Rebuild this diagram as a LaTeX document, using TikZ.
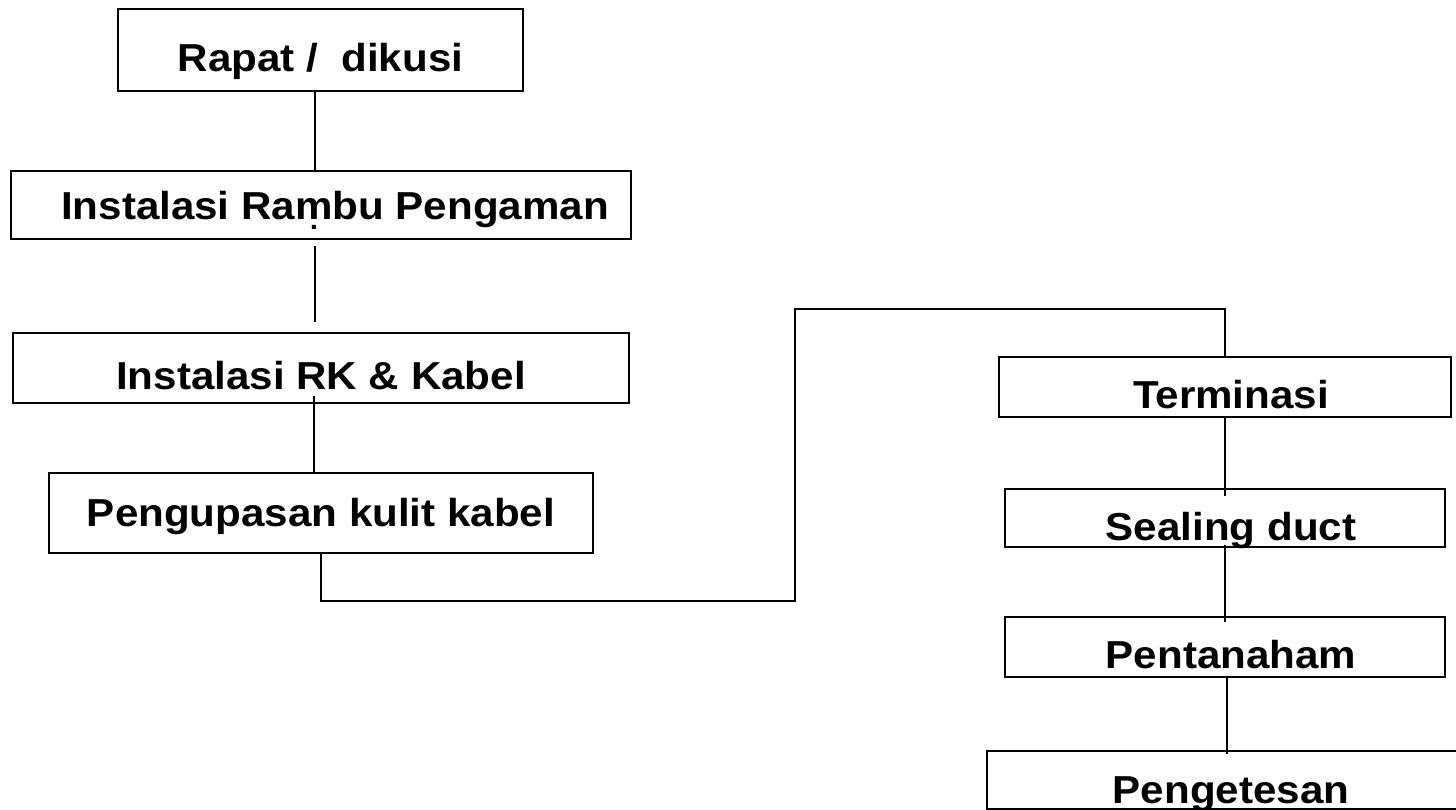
\documentclass[tikz,border=0pt]{standalone}
\usepackage{fontspec}
\setmainfont{Liberation Sans}[FakeStretch=1.08]
\usetikzlibrary{calc}
\newcommand{\dotm}{\ooalign{m\cr\hidewidth\raisebox{-0.25em}{\mdseries.}\hidewidth\cr}}
\begin{document}
\begin{tikzpicture}[x=1pt,y=-1pt,
  font=\fontsize{39}{40}\selectfont\bfseries,
  box/.style={draw, line width=2.5pt, inner sep=0pt, text depth=0pt},
  conn/.style={draw, line width=2pt}]
\useasboundingbox (0,0) rectangle (1456,810);
% left column
\node[box, minimum width=405pt, minimum height=82pt, text height=44pt] (b1) at (320.5,50) {Rapat /\ \ dikusi};
\node[box, minimum width=620pt, minimum height=68pt, text height=30pt] (b2) at (321,205) {\hspace*{28pt}Instalasi Ra\dotm bu Pengaman};
\node[box, minimum width=616pt, minimum height=70pt, text height=42pt] (b3) at (321,368) {Instalasi RK \& Kabel};
\node[box, minimum width=544pt, minimum height=80pt, text height=26pt] (b4) at (321,513) {Pengupasan kulit kabel};
% right column
\node[box, minimum width=452pt, minimum height=60pt, text height=42pt] (t) at (1225,387) {\hspace*{12pt}Terminasi};
\node[box, minimum width=440pt, minimum height=58pt, text height=44pt] (s) at (1225,518) {\hspace*{12pt}Sealing duct};
\node[box, minimum width=440pt, minimum height=60pt, text height=42pt] (p) at (1225,647) {\hspace*{12pt}Pentanaham};
\node[box, minimum width=488pt, minimum height=58pt, text height=46pt] (g) at (1231,780) {Pengetesan};
% connectors
\coordinate (c1) at (795,601);
\coordinate (c2) at (795,309);
\draw[conn] ($(b1.south)+(-5.5,0)$) -- ($(b1.south |- b2.north)+(-5.5,0)$);
\draw[conn] ($(b2.south)+(-6,6)$) -- ($(b2.south |- b3.north)+(-6,-10)$);
\draw[conn] ($(b3.south)+(-7,-8)$) -- ($(b3.south |- b4.north)+(-7,0)$);
\draw[conn] (b4.south) -- (b4.south |- c1) -- (c1) -- (c2) -- (c2 -| t.north) -- (t.north);
\draw[conn] (t.south) -- ($(s.north)+(0,8)$);
\draw[conn] ($(s.south)+(0,-3)$) -- ($(p.north)+(0,6)$);
\draw[conn] ($(p.south)+(2,0)$) -- ($(p.south |- g.north)+(2,4)$);
\end{tikzpicture}
\end{document}
